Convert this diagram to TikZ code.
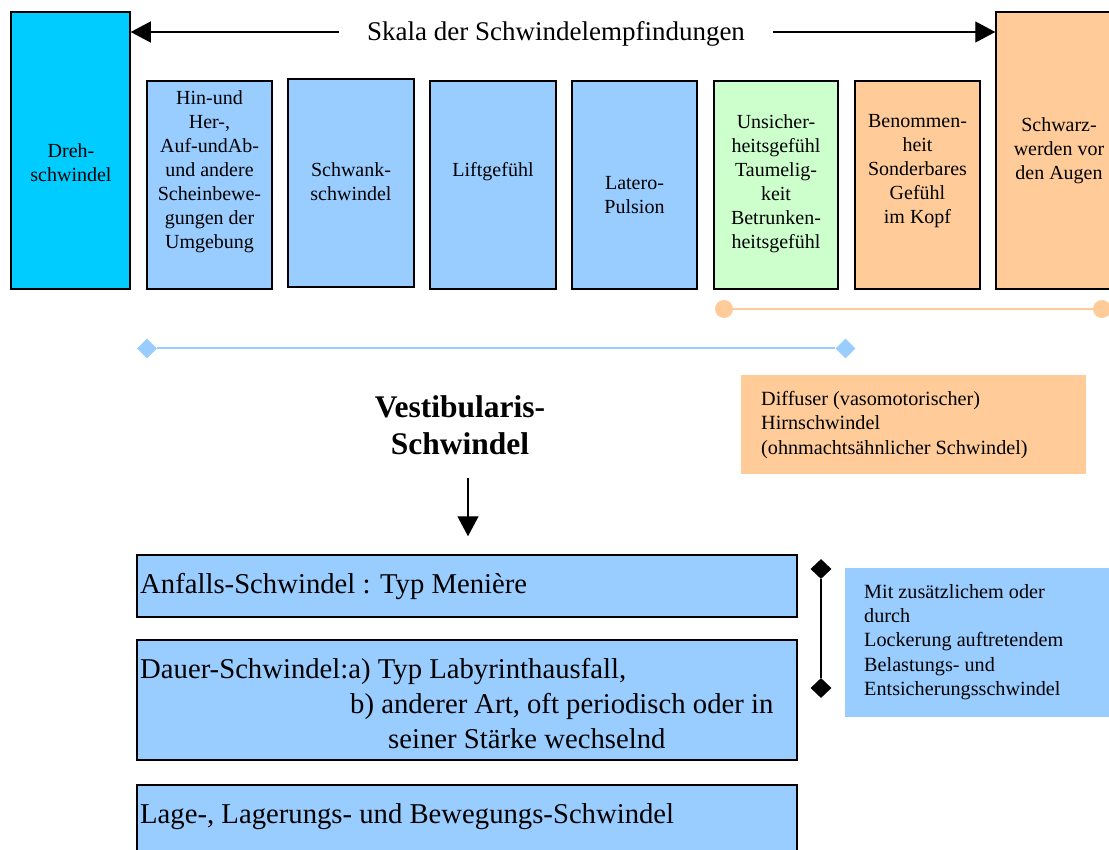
\documentclass[tikz,border=0pt]{standalone}
\usepackage{fontspec}
\setmainfont{Liberation Serif}
\usetikzlibrary{arrows.meta,shapes.geometric}

\definecolor{cyanbox}{HTML}{00CCFF}
\definecolor{bluebox}{HTML}{99CCFF}
\definecolor{greenbox}{HTML}{CCFFCC}
\definecolor{orangebox}{HTML}{FFCC99}

\tikzset{
  % framed boxes of the scale, given by width and height
  scalebox/.style n args={2}{draw=black, line width=1.5pt, rectangle, inner sep=0pt,
    minimum width=#1, minimum height=#2},
  boxtext/.style={align=center, inner sep=0pt, font=\fontsize{20}{24}\selectfont},
  notetext/.style={align=left, anchor=north west, inner sep=0pt, font=\fontsize{20.2}{24.3}\selectfont},
  bigtext/.style={align=left, anchor=north west, inner sep=0pt, font=\fontsize{28.7}{35}\selectfont},
  bigarrow/.style={line width=1.3pt, -{Triangle[length=20pt,width=21pt]}},
  dotend/.style={circle, fill=orangebox, inner sep=0pt, minimum size=18pt},
  bluediam/.style={diamond, fill=bluebox, inner sep=0pt, minimum width=20pt, minimum height=20pt},
  blackdiam/.style={diamond, fill=black, inner sep=0pt, minimum width=21pt, minimum height=20pt},
}

\begin{document}
\begin{tikzpicture}[x=1pt, y=-1pt]
\useasboundingbox (0,0) rectangle (1109,850);
\clip (0,0) rectangle (1109,850);

% scale of vertigo sensations
\node[scalebox={119pt}{277pt}, fill=cyanbox]   (dreh)  at (70.5,150.5) {};
\node[scalebox={125pt}{208pt}, fill=bluebox]   (hin)   at (209.5,185) {};
\node[scalebox={126pt}{208pt}, fill=bluebox]   (schwank) at (351,183) {};
\node[scalebox={126pt}{208pt}, fill=bluebox]   (lift)  at (493,185) {};
\node[scalebox={125pt}{208pt}, fill=bluebox]   (latero) at (634.5,185) {};
\node[scalebox={124pt}{208pt}, fill=greenbox]  (unsich) at (776,185) {};
\node[scalebox={125pt}{208pt}, fill=orangebox] (benom) at (917.5,185) {};
\node[scalebox={124pt}{277pt}, fill=orangebox] (schwarz) at (1058,150.5) {};

\node[boxtext] (tdreh) at (71,163) {Dreh-\\schwindel};
\node[boxtext] (thin) at (209.5,172) {Hin-und\\Her-,\\Auf-undAb-\\und andere\\Scheinbewe-\\gungen der\\Umgebung};
\node[boxtext] (tschwank) at (351,182) {Schwank-\\schwindel};
\node[boxtext] (tlift) at (493,172) {Liftgefühl};
\node[boxtext] (tlatero) at (634.5,195) {Latero-\\Pulsion};
\node[boxtext] (tunsich) at (776,184) {Unsicher-\\heitsgefühl\\Taumelig-\\keit\\Betrunken-\\heitsgefühl};
\node[boxtext] (tbenom) at (917.5,171) {Benommen-\\heit\\Sonderbares\\Gefühl\\im Kopf};
\node[boxtext] (tschwarz) at (1059,151) {Schwarz-\\werden vor\\den Augen};

% title with arrows to both ends of the scale
\node[anchor=base, inner xsep=28pt, inner ysep=0pt, text height=22.75pt, text depth=5.75pt,
  font=\fontsize{27}{32}\selectfont] (title) at (556,40.5) {Skala der Schwindelempfindungen};
\draw[bigarrow] (title.west) -- (title.west -| dreh.east);
\draw[bigarrow] (title.east) -- (title.east -| schwarz.west);

% range markers
\node[dotend] (dotA) at (724,309) {};
\node[dotend] (dotB) at (1102,309) {};
\draw[orangebox, line width=1.8pt] (dotA) -- (dotB);

\node[bluediam] (diaA) at (147,348.5) {};
\node[bluediam] (diaB) at (845.5,348.5) {};
\draw[bluebox, line width=2pt] (diaA) -- (diaB);

% diffuse cerebral vertigo
\node[fill=orangebox, minimum width=345pt, minimum height=99pt, inner sep=0pt] (diff) at (913.5,424.5) {};
\node[notetext] (tdiff) at (761,391) {Diffuser (vasomotorischer)\\Hirnschwindel\\(ohnmachtsähnlicher Schwindel)};

% vestibular vertigo
\node[align=center, anchor=north, inner sep=0pt, font=\bfseries\fontsize{31.5}{37}\selectfont] (vest) at (460,395) {Vestibularis-\\Schwindel};

\node[scalebox={660pt}{62pt}, fill=bluebox] (anf) at (467,586) {};
\node[scalebox={660pt}{120pt}, fill=bluebox] (dauer) at (467,700) {};
\node[scalebox={660pt}{80pt}, fill=bluebox] (lage) at (467,825) {};

\coordinate (vfrom) at (468,478);
\draw[bigarrow, shorten >=18pt] (vfrom) -- (vfrom |- anf.north);

\node[bigtext] (tanf) at (140,573) {Anfalls-Schwindel : Typ Menière};
\node[bigtext] (tdauer) at (140,658) {Dauer-Schwindel:a) Typ Labyrinthausfall,\\
  \hspace*{210pt}b) anderer Art, oft periodisch oder in\\
  \hspace*{248pt}seiner Stärke wechselnd};
\node[bigtext] (tlage) at (140,803) {Lage-, Lagerungs- und Bewegungs-Schwindel};

% additional strain vertigo
\node[blackdiam] (bdA) at (821,569) {};
\node[blackdiam] (bdB) at (821,688) {};
\draw[line width=1.8pt] (bdA) -- (bdB);

\node[fill=bluebox, minimum width=270pt, minimum height=149pt, inner sep=0pt] (mit) at (980,642.5) {};
\node[notetext] (tmit) at (864,584) {Mit zusätzlichem oder\\durch\\Lockerung auftretendem\\Belastungs- und\\Entsicherungsschwindel};

\end{tikzpicture}
\end{document}
